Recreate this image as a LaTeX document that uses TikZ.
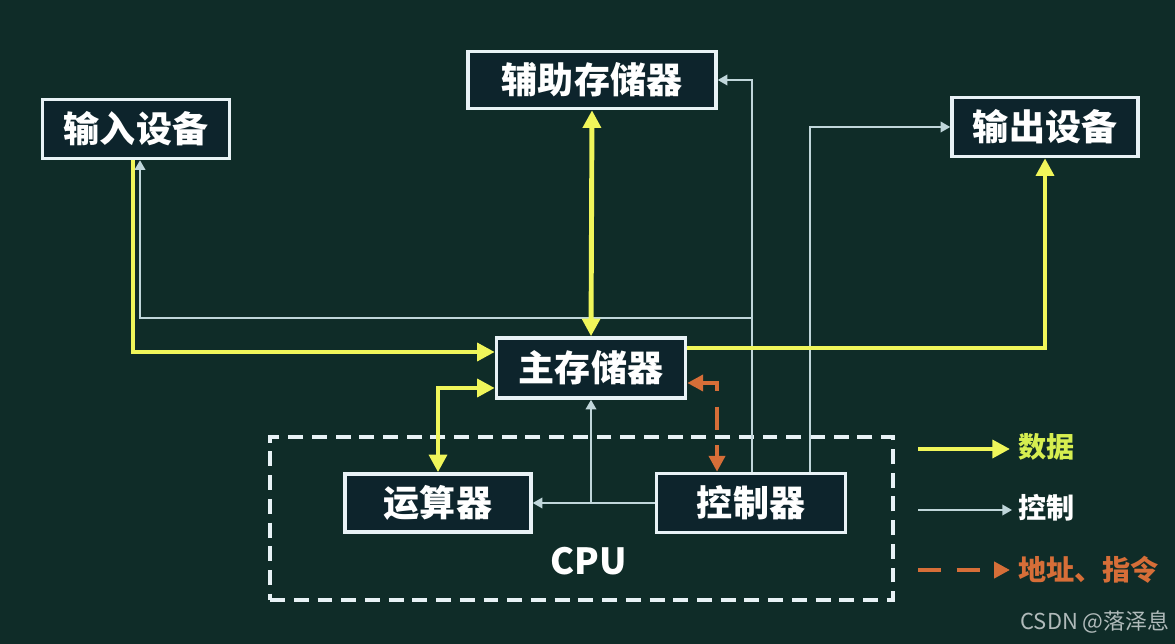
\documentclass[tikz,border=0pt]{standalone}
\usepackage{fontspec}
\newfontfamily\cjk{Noto Sans CJK SC}
\usetikzlibrary{arrows.meta}
\definecolor{bgcol}{RGB}{15,44,40}
\definecolor{boxfill}{RGB}{13,36,44}
\definecolor{boxline}{RGB}{232,242,246}
\definecolor{datacol}{RGB}{240,246,90}
\definecolor{ctrlcol}{RGB}{192,214,218}
\definecolor{addrcol}{RGB}{214,110,56}
\definecolor{legdata}{RGB}{214,238,80}
\definecolor{markcol}{RGB}{176,186,186}

\begin{document}
\begin{tikzpicture}[x=0.02cm,y=-0.02cm]
	\tikzstyle{every node}+=[inner sep=0pt]
	\tikzstyle{box}=[draw=boxline, line width=2pt, fill=boxfill, text=white, font=\cjk\bfseries\fontsize{20.5}{24}\selectfont, minimum height=1.18cm]
	\tikzstyle{legend}=[anchor=west, font=\cjk\bfseries\fontsize{16}{19}\selectfont]
	\tikzstyle{data}=[datacol, line width=2.8pt, -{Triangle[length=10pt,width=10pt]}]
	\tikzstyle{data2}=[data, {Triangle[length=10pt,width=10pt]}-{Triangle[length=10pt,width=10pt]}]
	\tikzstyle{ctrl}=[ctrlcol, line width=1.1pt, -{Triangle[length=5.5pt,width=6pt]}]
	\tikzstyle{addr}=[addrcol, line width=2.6pt, dash pattern=on 13pt off 9pt, {Triangle[length=9pt,width=9pt]}-{Triangle[length=9pt,width=9pt]}]
	\fill [bgcol] (0,0) rectangle (1175,644);
	\node [draw=boxline, line width=1.9pt, dash pattern=on 8.5pt off 5pt, minimum width=12.46cm, minimum height=3.26cm] (cpu) at (581.5,518.5) {};
	\node [text=white, font=\cjk\bfseries\fontsize{20.5}{24}\selectfont] (cpulbl) at (589,561) {CPU};
	\node [box, minimum width=3.74cm] (in) at (136,129) {输入设备};
	\node [box, minimum width=4.96cm, minimum height=1.14cm] (aux) at (592,80) {辅助存储器};
	\node [box, minimum width=3.72cm] (out) at (1045,127) {输出设备};
	\node [box, minimum width=3.78cm, minimum height=1.2cm] (main) at (591,368) {主存储器};
	\node [box, minimum width=3.72cm, minimum height=1.16cm] (alu) at (438,503) {运算器};
	\node [box, minimum width=3.78cm] (ctl) at (751,503) {控制器};
	\coordinate (j1) at (752,318);
	\draw [ctrl] ([xshift=0.02cm]ctl.north) |- (aux.east);
	\draw [ctrl] (j1) -| ([xshift=0.08cm]in.south);
	\draw [ctrl] ([xshift=1.18cm]ctl.north) |- (out.west);
	\draw [ctrl] (ctl.west) -- (alu.east);
	\draw [ctrl] (main.south |- alu.east) -- (main.south);
	\draw [data] ([xshift=-0.06cm]in.south) |- ([yshift=0.32cm]main.west);
	\draw [data2] (aux.south) -- (main.north);
	\draw [data] ([yshift=0.4cm]main.east) -| (out.south);
	\draw [data2] ([yshift=-0.4cm]main.west) -| (alu.north);
	\draw [addr] ([yshift=-0.3cm]main.east) -| ([xshift=-0.68cm]ctl.north);
	\node [legend, text=legdata] (legdata) at (1018,447) {数据};
	\node [legend, text=white] (legctrl) at (1018,508) {控制};
	\node [legend, text=addrcol] (legaddr) at (1018,570) {地址、指令};
	\coordinate (s1) at (918,449);
	\coordinate (s2) at (918,510);
	\coordinate (s3) at (918,570);
	\draw [data] (s1) -- ([xshift=-0.16cm]legdata.west |- s1);
	\draw [ctrl] (s2) -- ([xshift=-0.12cm]legctrl.west |- s2);
	\draw [addr, -{Triangle[length=9pt,width=9pt]}] (s3) -- ([xshift=-0.16cm]legaddr.west |- s3);
	\node [text=markcol, font=\cjk\fontsize{12.5}{15}\selectfont] (mark) at (1095,622) {CSDN @落泽息};
\end{tikzpicture}
\end{document}
